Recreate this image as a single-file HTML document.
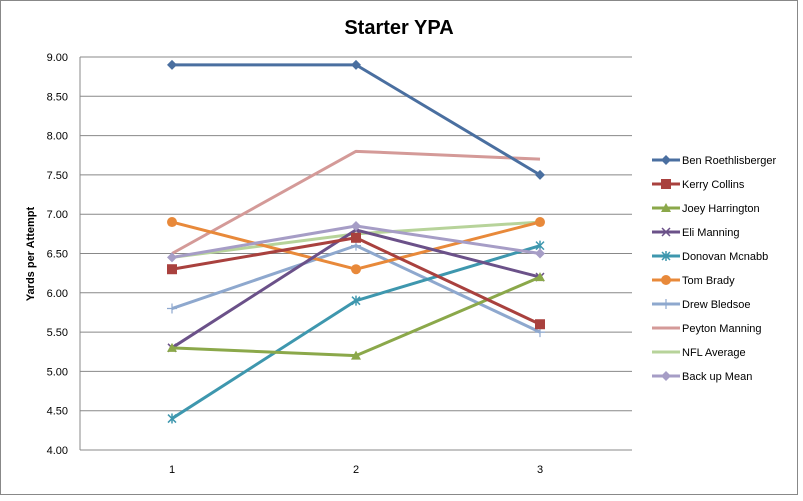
<!DOCTYPE html>
<html><head><meta charset="utf-8"><style>
body{margin:0;background:#fff;}
svg{display:block;font-family:"Liberation Sans",Arial,sans-serif;}
</style></head><body>
<svg id="c" width="803" height="501">
<rect x="0.5" y="0.5" width="797" height="494" fill="#fff" stroke="#888"/>
<text x="399" y="34" font-size="20" font-weight="bold" text-anchor="middle">Starter YPA</text>
<text transform="translate(34,254) rotate(-90)" font-size="11" font-weight="bold" text-anchor="middle">Yards per Attempt</text>
<g id="grid"></g><g id="series"></g><g id="legend"></g>
</svg>
<script>
const categories=["1","2","3"];
const yTicks=[4,4.5,5,5.5,6,6.5,7,7.5,8,8.5,9];
const names=["Ben Roethlisberger","Kerry Collins","Joey Harrington","Eli Manning","Donovan Mcnabb","Tom Brady","Drew Bledsoe","Peyton Manning","NFL Average","Back up Mean"];
const ben=[8.9,8.9,7.5];
const kerry=[6.3,6.7,5.6];
const joey=[5.3,5.2,6.2];
const eli=[5.3,6.8,6.2];
const donovan=[4.4,5.9,6.6];
const tom=[6.9,6.3,6.9];
const drew=[5.8,6.6,5.5];
const peyton=[6.5,7.8,7.7];
const nfl=[6.45,6.75,6.9];
const backup=[6.45,6.85,6.5];
const series=[ben,kerry,joey,eli,donovan,tom,drew,peyton,nfl,backup];
const colors=["#4A6FA0","#A9413E","#8BA84A","#6B5189","#3E97AE","#E8893A","#8EA8CE","#D49A98","#B7D39A","#A69DC6"];
const markers=["diamond","square","triangle","x","star","circle","plus","none","none","diamond"];
const L=80,R=632,T=57,B=450;
const x=i=>L+(R-L)/categories.length*(i+0.5);
const y=v=>B-(v-4)/(9-4)*(B-T);
const NS="http://www.w3.org/2000/svg";
function mk(t,a,p){const e=document.createElementNS(NS,t);for(const k in a)e.setAttribute(k,a[k]);p.appendChild(e);return e;}
const g=document.getElementById('grid');
yTicks.forEach(v=>{
 const l=mk('line',{x1:L,x2:R,y1:y(v),y2:y(v),stroke:'#888','stroke-width':1},g);
 
 
 const t=mk('text',{x:L-12,y:y(v)+4,'font-size':11,'text-anchor':'end'},g);t.textContent=v.toFixed(2);
 
 
});
mk('line',{x1:L,x2:L,y1:T,y2:B,stroke:'#888'},g);
categories.forEach((c,i)=>{
 const t=mk('text',{x:x(i),y:B+23,'font-size':11,'text-anchor':'middle'},g);t.textContent=c;
 
 
});
function marker(type,cx,cy,col,p){
 if(type==='diamond')return mk('polygon',{points:`${cx},${cy-5} ${cx+5},${cy} ${cx},${cy+5} ${cx-5},${cy}`,fill:col},p);
 if(type==='square')return mk('rect',{x:cx-5,y:cy-5,width:10,height:10,fill:col},p);
 if(type==='triangle')return mk('polygon',{points:`${cx},${cy-5} ${cx+5},${cy+4} ${cx-5},${cy+4}`,fill:col},p);
 if(type==='circle')return mk('circle',{cx,cy,r:5,fill:col},p);
 if(type==='x')return mk('path',{d:`M${cx-4} ${cy-4}L${cx+4} ${cy+4}M${cx-4} ${cy+4}L${cx+4} ${cy-4}`,stroke:col,'stroke-width':1.5},p);
 if(type==='star')return mk('path',{d:`M${cx-4} ${cy-4}L${cx+4} ${cy+4}M${cx-4} ${cy+4}L${cx+4} ${cy-4}M${cx} ${cy-5}L${cx} ${cy+5}`,stroke:col,'stroke-width':1.5},p);
 if(type==='plus')return mk('path',{d:`M${cx-5} ${cy}L${cx+5} ${cy}M${cx} ${cy-5}L${cx} ${cy+5}`,stroke:col,'stroke-width':1.2},p);
 return null;
}
const sg=document.getElementById('series');
const order=[8,7,6,5,4,3,2,1,9,0];
order.forEach(si=>{
 const d=series[si],col=colors[si];
 const gg=mk('g',{},sg);
 
 
 mk('polyline',{points:d.map((v,i)=>x(i)+','+y(v)).join(' '),fill:'none',stroke:col,'stroke-width':3,'stroke-linejoin':'round'},gg);
 d.forEach((v,i)=>{const m=marker(markers[si],x(i),y(v),col,gg);if(m){
  
  }});
});
const lg=document.getElementById('legend');
names.forEach((n,i)=>{
 const yy=160+i*24;
 const e=mk('g',{},lg);
 
 
 mk('line',{x1:652,x2:680,y1:yy,y2:yy,stroke:colors[i],'stroke-width':3},e);
 marker(markers[i],666,yy,colors[i],e);
 const t=mk('text',{x:682,y:yy+4,'font-size':11},e);t.textContent=n;
});
</script>
</body></html>
